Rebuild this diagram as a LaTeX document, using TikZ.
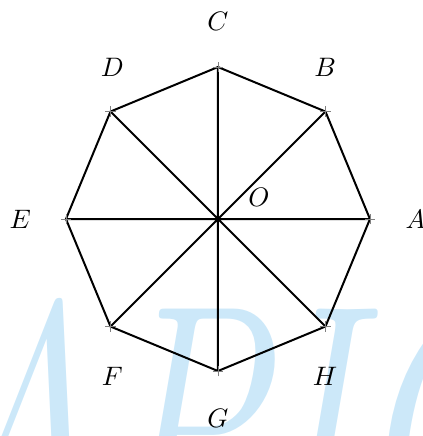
\documentclass[tikz,border=0pt]{standalone}
\definecolor{wmblue}{RGB}{204,232,249}

\begin{document}
\begin{tikzpicture}[line width=0.75pt,
  tick/.style={gray,line width=0.3pt},
  wm/.style={wmblue,inner sep=0pt,anchor=base west,font=\fontsize{96}{96}\selectfont\itshape}]
  \useasboundingbox (-2.868,-2.855) rectangle (2.697,2.882);
  \begin{scope}
    \clip (-2.868,-2.855) rectangle (2.697,2.882);
    \node[wm,xscale=0.93,yscale=1.35,transform shape] (mark) at (-3.79,-4.3){APIC};
  \end{scope}
  \coordinate (O) at (0,0);
  \coordinate (A) at (0:2);
  \coordinate (B) at (45:2);
  \coordinate (C) at (90:2);
  \coordinate (D) at (135:2);
  \coordinate (E) at (180:2);
  \coordinate (F) at (225:2);
  \coordinate (G) at (270:2);
  \coordinate (H) at (315:2);
  \draw (A)--(B)--(C)--(D)--(E)--(F)--(G)--(H)--cycle;
  \draw (A)--(E) (B)--(F) (C)--(G) (D)--(H);
  \foreach \p in {A,B,C,D,E,F,G,H}
    \draw[tick] (\p) ++(-0.07,0) -- ++(0.14,0) (\p) ++(0,-0.07) -- ++(0,0.14);
  \node (lA) at (2.6,0){$A$};
  \node (lB) at (1.41,2.0){$B$};
  \node (lC) at (0,2.6){$C$};
  \node (lD) at (-1.39,2.0){$D$};
  \node (lE) at (-2.6,0){$E$};
  \node (lF) at (-1.39,-2.07){$F$};
  \node (lG) at (0,-2.62){$G$};
  \node (lH) at (1.41,-2.07){$H$};
  \node (lO) at (0.54,0.28){$O$};
\end{tikzpicture}
\end{document}
